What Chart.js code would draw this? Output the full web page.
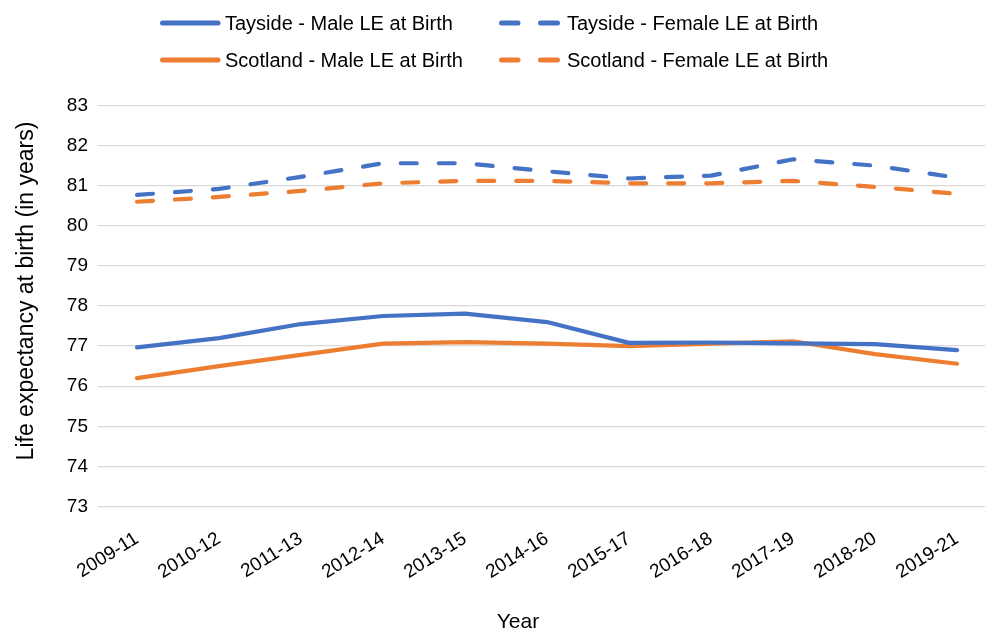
<!DOCTYPE html>
<html>
<head>
<meta charset="utf-8">
<script src="https://cdn.jsdelivr.net/npm/chart.js@4/dist/chart.umd.min.js"></script>
<style>
  html, body { margin: 0; padding: 0; background: #fff; }
  #wrap { width: 985px; height: 634px; position: relative; }
</style>
</head>
<body>
<div id="wrap"><canvas id="c" width="985" height="634"></canvas></div>
<script>
const categories = ["2009-11","2010-12","2011-13","2012-14","2013-15","2014-16","2015-17","2016-18","2017-19","2018-20","2019-21"];
const taysideMale   = [76.97, 77.20, 77.55, 77.75, 77.81, 77.60, 77.08, 77.09, 77.07, 77.05, 76.90];
const taysideFemale = [80.77, 80.92, 81.22, 81.56, 81.56, 81.36, 81.18, 81.25, 81.66, 81.50, 81.20];
const scotlandMale  = [76.20, 76.50, 76.78, 77.06, 77.10, 77.06, 77.00, 77.06, 77.12, 76.80, 76.56];
const scotlandFemale= [80.60, 80.72, 80.87, 81.06, 81.12, 81.12, 81.06, 81.06, 81.12, 80.97, 80.80];
const yTicks = [73, 74, 75, 76, 77, 78, 79, 80, 81, 82, 83];
const seriesNames = ["Tayside - Male LE at Birth", "Tayside - Female LE at Birth", "Scotland - Male LE at Birth", "Scotland - Female LE at Birth"];
const yTitle = "Life expectancy at birth (in years)";
const xTitle = "Year";

const BLUE = "#4472C4";
const ORANGE = "#ED7D31";
const FONT = "'Liberation Sans', Arial, sans-serif";

function pts(arr) { return arr.map((v, i) => ({ x: i, y: v })); }

const dash = [16, 22];

const titlesAndLegend = {
  id: 'titlesAndLegend',
  afterDraw(chart) {
    const ctx = chart.ctx;
    ctx.save();
    ctx.fillStyle = '#000';
    // y title
    ctx.font = "23px " + FONT;
    ctx.textAlign = 'center';
    ctx.textBaseline = 'alphabetic';
    ctx.save();
    ctx.translate(33, 291);
    ctx.rotate(-Math.PI / 2);
    ctx.fillText(yTitle, 0, 0);
    ctx.restore();
    // x title
    ctx.font = "21px " + FONT;
    ctx.textBaseline = 'middle';
    ctx.fillText(xTitle, 518, 622);
    // legend
    const items = [
      { name: seriesNames[0], color: BLUE, dashed: false, x: 160, y: 23 },
      { name: seriesNames[1], color: BLUE, dashed: true, x: 499, y: 23 },
      { name: seriesNames[2], color: ORANGE, dashed: false, x: 160, y: 60 },
      { name: seriesNames[3], color: ORANGE, dashed: true, x: 499, y: 60 }
    ];
    ctx.font = "20px " + FONT;
    ctx.textAlign = 'left';
    ctx.textBaseline = 'middle';
    items.forEach(it => {
      ctx.strokeStyle = it.color;
      ctx.lineWidth = 5;
      ctx.lineCap = 'round';
      ctx.beginPath();
      if (it.dashed) {
        ctx.moveTo(it.x + 2.5, it.y); ctx.lineTo(it.x + 19, it.y);
        ctx.moveTo(it.x + 41.5, it.y); ctx.lineTo(it.x + 58.5, it.y);
      } else {
        ctx.moveTo(it.x + 2.5, it.y); ctx.lineTo(it.x + 58, it.y);
      }
      ctx.stroke();
      ctx.fillText(it.name, it.dashed ? it.x + 68 : it.x + 65, it.y + 1);
    });
    ctx.restore();
  }
};

new Chart(document.getElementById('c'), {
  type: 'line',
  data: {
    datasets: [
      { label: seriesNames[0], data: pts(taysideMale), borderColor: BLUE, backgroundColor: BLUE, borderWidth: 4.2, pointRadius: 0, borderCapStyle: 'round', borderJoinStyle: 'round', tension: 0 },
      { label: seriesNames[1], data: pts(taysideFemale), borderColor: BLUE, backgroundColor: BLUE, borderWidth: 4.2, pointRadius: 0, borderDash: dash, borderCapStyle: 'round', borderJoinStyle: 'round', tension: 0 },
      { label: seriesNames[2], data: pts(scotlandMale), borderColor: ORANGE, backgroundColor: ORANGE, borderWidth: 4.2, pointRadius: 0, borderCapStyle: 'round', borderJoinStyle: 'round', tension: 0 },
      { label: seriesNames[3], data: pts(scotlandFemale), borderColor: ORANGE, backgroundColor: ORANGE, borderWidth: 4.2, pointRadius: 0, borderDash: dash, borderCapStyle: 'round', borderJoinStyle: 'round', tension: 0 }
    ]
  },
  options: {
    responsive: false,
    animation: false,
    devicePixelRatio: 1,
    layout: { padding: { top: 105.5, left: 0, right: 0, bottom: 0 } },
    plugins: { legend: { display: false }, tooltip: { enabled: false } },
    scales: {
      x: {
        type: 'linear',
        min: -0.4756,
        max: 10.341,
        grid: { display: false, drawTicks: false },
        border: { display: false },
        ticks: {
          stepSize: 1,
          includeBounds: false,
          autoSkip: false,
          minRotation: 32,
          maxRotation: 32,
          padding: 21,
          color: '#000',
          font: { family: FONT, size: 19 },
          callback: (v) => Number.isInteger(v) && v >= 0 && v < categories.length ? categories[v] : ''
        },
        afterFit: (s) => { s.height = 127.5; s.paddingRight = 0; s.paddingLeft = 0; }
      },
      y: {
        min: yTicks[0],
        max: yTicks[yTicks.length - 1],
        grid: { color: '#D9D9D9', lineWidth: 1.3, drawTicks: false },
        border: { display: false },
        ticks: {
          stepSize: 1,
          padding: 10,
          color: '#000',
          font: { family: FONT, size: 19 }
        },
        afterFit: (s) => { s.width = 98; }
      }
    }
  },
  plugins: [titlesAndLegend]
});
</script>
</body>
</html>
